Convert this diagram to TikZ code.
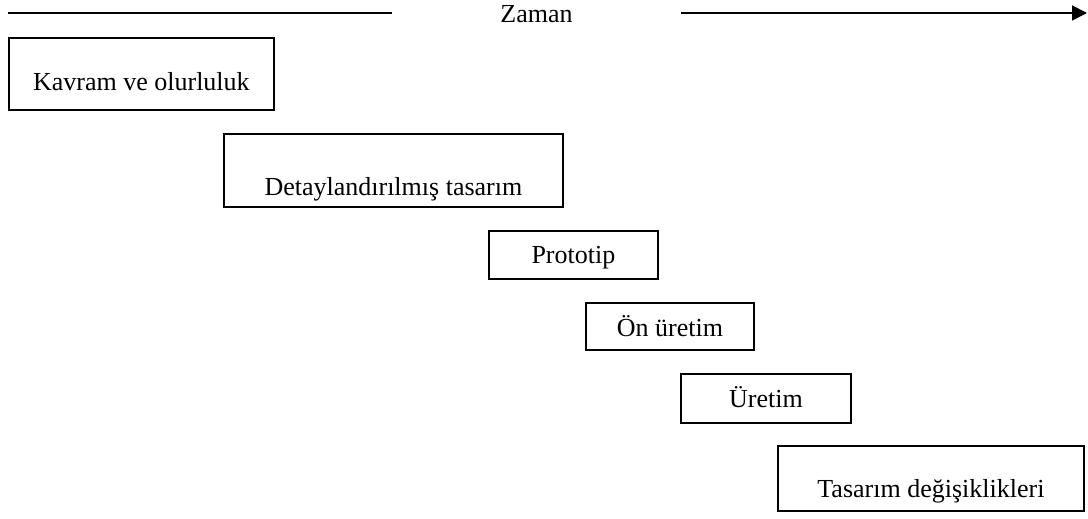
\documentclass[tikz,border=0pt]{standalone}
\usepackage{fontspec}
\setmainfont{Liberation Serif}
\usetikzlibrary{arrows.meta}
\begin{document}
\begin{tikzpicture}[x=1pt,y=-1pt,
  phase/.style={draw,line width=1.8pt,anchor=north west,inner xsep=0pt,inner ysep=0pt,
    font=\fontsize{26}{30}\selectfont,align=center},
  timeline/.style={line width=1.8pt}]
\useasboundingbox (0,0) rectangle (1088,519);
\node[font=\fontsize{26}{30}\selectfont,anchor=base] (zaman) at (536.5,23) {Zaman};
\coordinate (l1) at (8,13);
\coordinate (l2) at (392,13);
\coordinate (r1) at (681,13);
\coordinate (r2) at (1087,13);
\draw[timeline] (l1) -- (l2);
\draw[timeline,-{Triangle[length=15pt,width=15pt]}] (r1) -- (r2);
\node[phase,minimum width=265pt,text height=53pt,text depth=19pt] (p1) at (8,37) {Kavram ve olurluluk};
\node[phase,minimum width=339pt,text height=62pt,text depth=11pt] (p2) at (223,133) {Detaylandırılmış tasarım};
\node[phase,minimum width=169pt,text height=33pt,text depth=15pt] (p3) at (488,230) {Prototip};
\node[phase,minimum width=168pt,text height=34pt,text depth=13pt] (p4) at (585,302) {Ön üretim};
\node[phase,minimum width=170pt,text height=34pt,text depth=15pt] (p5) at (680,373) {Üretim};
\node[phase,minimum width=306pt,text height=52pt,text depth=13pt] (p6) at (777,445) {Tasarım değişiklikleri};
\end{tikzpicture}
\end{document}
